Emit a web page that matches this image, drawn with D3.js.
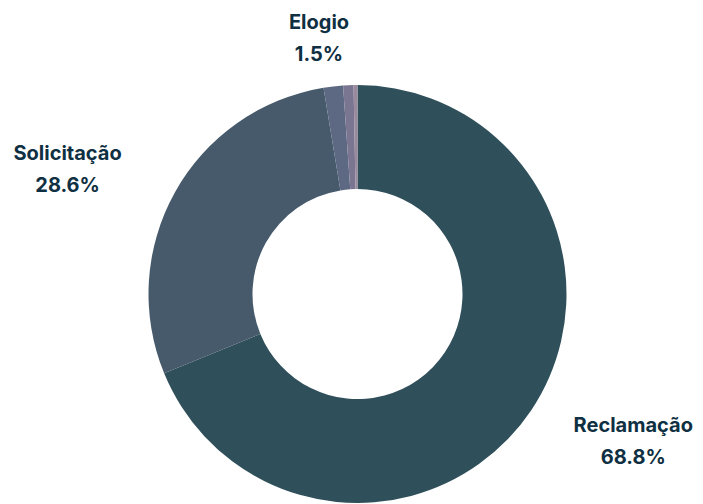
<!DOCTYPE html>
<html>
<head>
<meta charset="utf-8">
<script src="https://cdn.jsdelivr.net/npm/d3@7"></script>
<style>
  body { margin: 0; background: #fff; }
</style>
</head>
<body>
<div id="chart"></div>
<script>
const categories = ["Reclamação", "Solicitação", "Elogio", "Denúncia", "Sugestão"];
const values = [68.8, 28.6, 1.5, 0.8, 0.3];
const colors = ["#2f4f5a", "#465a6b", "#5d6882", "#7a7591", "#9a8a9e"];
const showLabel = [true, true, true, false, false];

const width = 703, height = 504;
const cx = 357.5, cy = 294;
const outerR = 209, innerR = 105;
// labels sit on an ellipse around the donut
const labelRx = 332, labelRy = 260;

let svg = d3.select("#chart")
  .append("svg")
    .attr("width", width)
    .attr("height", height);

let g = svg.append("g")
  .attr("transform", "translate(" + cx + "," + cy + ")");

let pie = d3.pie()
  .sort(null)
  .value(function(d){ return d; });

let arc = d3.arc()
  .innerRadius(innerR)
  .outerRadius(outerR);

let arcs = pie(values);

g.selectAll("path")
  .data(arcs)
  .enter()
  .append("path")
    .attr("d", arc)
    .attr("fill", function(d, i){ return colors[i]; });

let labels = g.selectAll("text.lbl")
  .data(arcs.filter(function(d, i){ return showLabel[i]; }))
  .enter()
  .append("text")
    .attr("class", "lbl")
    .attr("text-anchor", "middle")
    .attr("font-family", "Inter, 'Noto Sans', sans-serif")
    .attr("font-weight", 700)
    .attr("font-size", "20px")
    .attr("fill", "#0f3042")
    .attr("transform", function(d){
      let a = (d.startAngle + d.endAngle) / 2;
      let x = Math.sin(a) * labelRx;
      let y = -Math.cos(a) * labelRy;
      return "translate(" + x + "," + y + ")";
    });

labels.append("tspan")
  .attr("x", 0)
  .attr("y", -7)
  .text(function(d){ return categories[d.index]; });

labels.append("tspan")
  .attr("x", 0)
  .attr("y", 25)
  .text(function(d){ return d.value.toFixed(1) + "%"; });
</script>
</body>
</html>
